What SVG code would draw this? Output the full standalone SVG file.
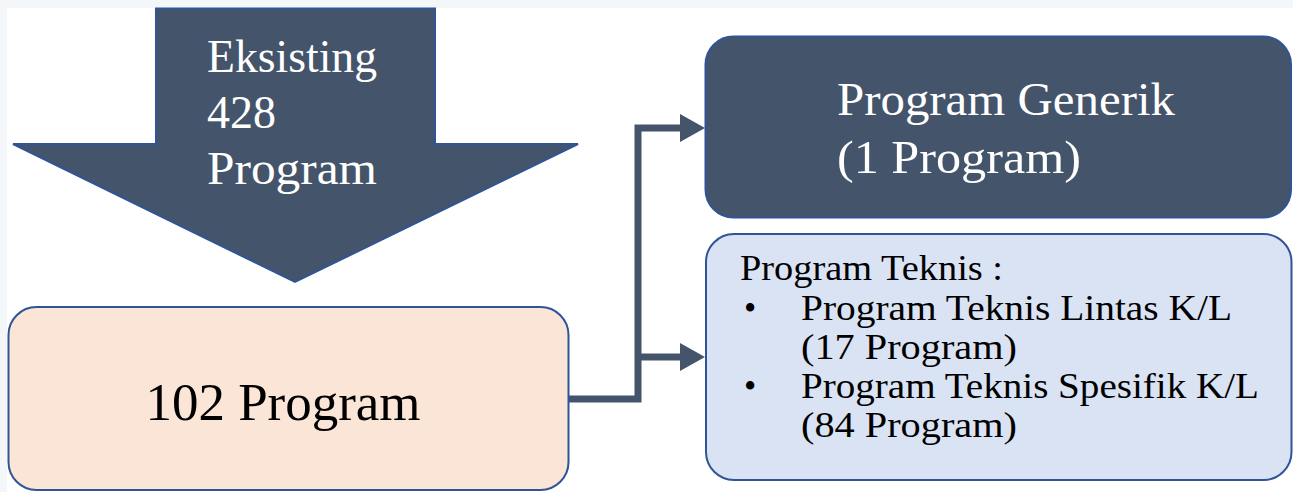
<svg xmlns="http://www.w3.org/2000/svg" width="1293" height="492" viewBox="0 0 1293 492">
  <style>
    .serif { font-family: "Liberation Serif", "DejaVu Serif", serif; }
    .light { fill: #ffffff; }
    .dark { fill: #000000; }
    .edge { stroke: #2f5597; stroke-width: 2; }
    .wire { fill: none; stroke: #44546a; stroke-width: 7; stroke-linejoin: miter; }
    .head { fill: #44546a; }
  </style>

  <!-- page background with pale frame strip at top and left -->
  <rect x="0" y="0" width="1293" height="492" fill="#f3f7f9"/>
  <rect x="7" y="8" width="1286" height="484" fill="#ffffff"/>

  <!-- connectors -->
  <g id="connectors">
    <polyline class="wire" points="569,399 638,399 638,128 682,128"/>
    <line class="wire" x1="638" y1="357" x2="682" y2="357"/>
    <polygon class="head" points="680,114 705,128 680,142"/>
    <polygon class="head" points="680,343 705,357 680,371"/>
  </g>

  <!-- block arrow: existing programs -->
  <g id="eksisting">
    <polygon class="edge" fill="#44546a" points="156,8.5 435,8.5 435,144 578,144 295,282 13,144 156,144"/>
    <text class="serif light" font-size="46" x="207" y="72" textLength="170" lengthAdjust="spacingAndGlyphs">Eksisting</text>
    <text class="serif light" font-size="46" x="207" y="128">428</text>
    <text class="serif light" font-size="46" x="207" y="184" textLength="170" lengthAdjust="spacingAndGlyphs">Program</text>
  </g>

  <!-- result box -->
  <g id="program102">
    <rect class="edge" fill="#fbe5d6" x="8.5" y="307" width="560" height="183" rx="28" ry="28"/>
    <text class="serif dark" font-size="52" x="283" y="420" text-anchor="middle" textLength="275" lengthAdjust="spacingAndGlyphs">102 Program</text>
  </g>

  <!-- generic program box -->
  <g id="generik">
    <rect class="edge" fill="#44546a" x="705.5" y="36.5" width="585.5" height="181" rx="28" ry="28"/>
    <text class="serif light" font-size="46" x="837" y="115" textLength="338" lengthAdjust="spacingAndGlyphs">Program Generik</text>
    <text class="serif light" font-size="46" x="837" y="173" textLength="244" lengthAdjust="spacingAndGlyphs">(1 Program)</text>
  </g>

  <!-- technical program box -->
  <g id="teknis">
    <rect class="edge" fill="#dae3f3" x="706" y="234" width="585.5" height="246" rx="28" ry="28"/>
    <text class="serif dark" font-size="35" x="740" y="280" textLength="263" lengthAdjust="spacingAndGlyphs">Program Teknis :</text>
    <text class="serif dark" font-size="35" x="744" y="320">•</text>
    <text class="serif dark" font-size="35" x="801" y="320" textLength="431" lengthAdjust="spacingAndGlyphs">Program Teknis Lintas K/L</text>
    <text class="serif dark" font-size="35" x="801" y="359" textLength="216" lengthAdjust="spacingAndGlyphs">(17 Program)</text>
    <text class="serif dark" font-size="35" x="744" y="398">•</text>
    <text class="serif dark" font-size="35" x="801" y="398" textLength="458" lengthAdjust="spacingAndGlyphs">Program Teknis Spesifik K/L</text>
    <text class="serif dark" font-size="35" x="801" y="437" textLength="216" lengthAdjust="spacingAndGlyphs">(84 Program)</text>
  </g>
</svg>
